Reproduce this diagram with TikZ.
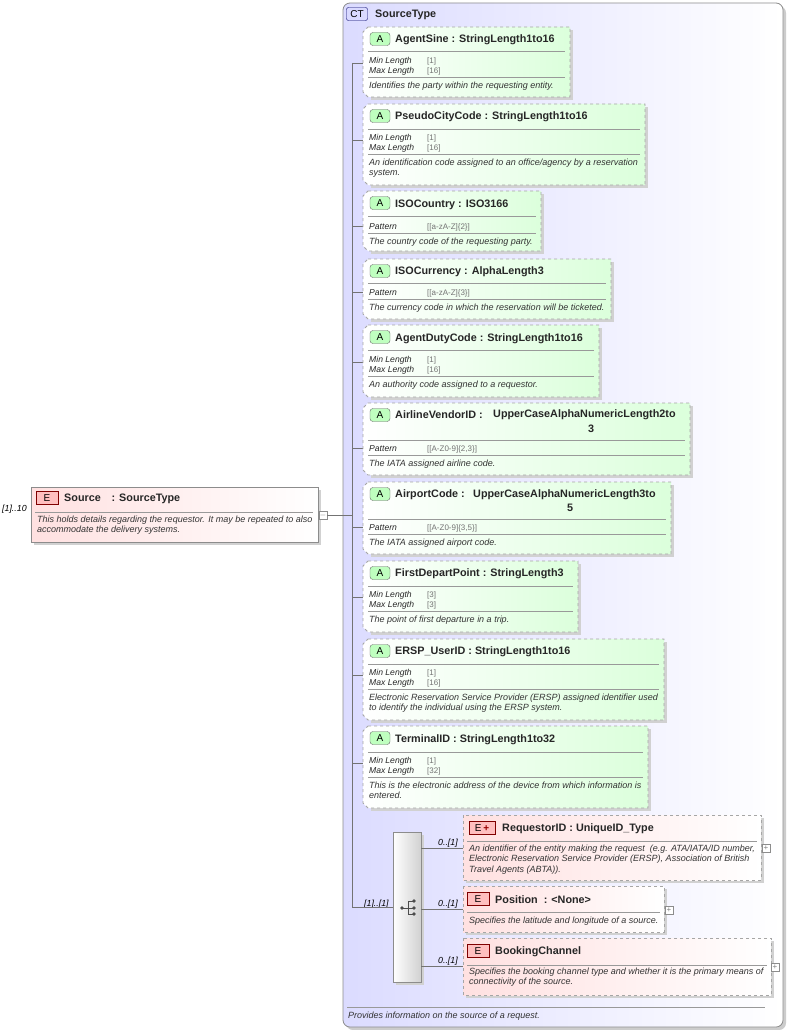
\documentclass[tikz,border=0pt]{standalone}
\usepackage{fontspec}
\setmainfont{Liberation Sans}
\begin{document}
\begin{tikzpicture}[x=1pt,y=-1pt,
 ttl/.style={anchor=west,font=\bfseries\fontsize{10.8}{13.5}\selectfont,inner sep=0pt,text=black!85,yshift=-1.8pt},
 dsc/.style={anchor=north west,font=\itshape\fontsize{9}{10.6}\selectfont,inner sep=0pt,align=left,text=black!80,yshift=-1.5pt},
 fl/.style={anchor=west,font=\itshape\fontsize{8.6}{9}\selectfont,inner sep=0pt,text=black!85,yshift=-1pt},
 fv/.style={anchor=west,font=\fontsize{8}{9}\selectfont,inner sep=0pt,text=black!55,yshift=-1pt},
 card/.style={anchor=west,font=\itshape\fontsize{8.8}{9}\selectfont,inner sep=0pt,yshift=-1pt},
 sepl/.style={draw=black!40,line width=0.6pt},
 conn/.style={draw=black!55,line width=0.6pt},
 shd/.style={fill=black!18},
 attr/.style={draw=black!35,dashed,line width=0.8pt,left color=white,right color=green!14!white},
 elm/.style={draw=black!35,dashed,line width=0.8pt,left color=red!12!white,right color=white},
 badgeA/.style={draw=black!60,fill=green!25!white,rounded corners=3pt,minimum width=20pt,minimum height=13pt,inner sep=0pt,font=\fontsize{10}{10}\selectfont},
 badgeE/.style={draw=red!50!black,fill=red!25!white,minimum width=22pt,minimum height=13pt,inner sep=0pt,font=\fontsize{10}{10}\selectfont},
 pm/.style={draw=black!45,fill=white,minimum size=8pt,inner sep=0pt,font=\fontsize{8}{8}\selectfont,text=black!50}]
\newcommand\abox[5]{\fill[shd] (#1+8,#2+3) -- (#3+3,#2+3) -- (#3+3,#4+3) -- (#1+8,#4+3) -- cycle;
 \path[attr] (#1+5,#2) -- (#3,#2) -- (#3,#4) -- (#1+5,#4) -- (#1,#4-5) -- (#1,#2+5) -- cycle;
 \node[badgeA] (#5) at (#1+17,#2+12) {A};}
\newcommand\ebox[5]{\fill[shd] (#1+3,#2+3) rectangle (#3+3,#4+3);
 \path[elm] (#1,#2) rectangle (#3,#4);}
\newcommand\hsep[3]{\draw[sepl] (#1,#3) -- (#2,#3);}
\newcommand\fc[4]{\node[fl] (#4a) at (369,#1) {#2}; \node[fv] (#4b) at (427,#1) {#3};}
\useasboundingbox (0,0) rectangle (788,1030);
\fill[white] (0,0) rectangle (788,1030);
% container
\fill[black!20,rounded corners=7pt] (346,6) rectangle (786,1030);
\path[draw=black!45,line width=0.8pt,rounded corners=7pt,left color=blue!14!white,right color=white] (343,3) rectangle (783,1027);
\node[draw=blue!40!black,fill=blue!15!white,rounded corners=2pt,minimum width=21pt,minimum height=13pt,inner sep=0pt,font=\fontsize{10}{10}\selectfont] (ct) at (357,14) {CT};
\node[ttl] (ctt) at (375,13) {SourceType};
\draw[sepl] (347,1007) -- (765,1007);
\node[dsc] (ctd) at (348,1010) {Provides information on the source of a request.};
% tree line
\coordinate (v0) at (352,63); \coordinate (v1) at (352,907);
\draw[conn] (v0) -- (v1);
\foreach \yy in {63,140,226,292,362,448,527,597,675,763}{\draw[conn] (352,\yy) -- (363,\yy);}
% Source element
\fill[shd] (34,490) rectangle (321,545);
\path[draw=black!45,line width=0.8pt,left color=red!12!white,right color=white] (31,487) rectangle (318,542);
\node[badgeE] (se) at (47,498) {E};
\node[ttl] (st) at (64,497) {Source\quad : SourceType};
\hsep{35}{313}{512}
\node[dsc] (sd) at (37,514) {This holds details regarding the requestor. It may be repeated to also\\accommodate the delivery systems.};
\node[card] (sc) at (2,508) {[1]..10};
\node[pm] (smin) at (323,515) {$-$};
\coordinate (sj) at (352,515);
\draw[conn] (smin) -- (sj);
% attributes
\abox{363}{27}{570}{97}{a1}
\node[ttl] (t1) at (395,38) {AgentSine : StringLength1to16};
\hsep{368}{565}{51}\fc{60}{Min Length}{[1]}{f1}\fc{70}{Max Length}{[16]}{g1}\hsep{368}{565}{77}
\node[dsc] (d1) at (369,80) {Identifies the party within the requesting entity.};
\abox{363}{104}{645}{185}{a2}
\node[ttl] (t2) at (395,115) {PseudoCityCode : StringLength1to16};
\hsep{368}{640}{129}\fc{137}{Min Length}{[1]}{f2}\fc{147}{Max Length}{[16]}{g2}\hsep{368}{640}{154}
\node[dsc] (d2) at (369,157) {An identification code assigned to an office/agency by a reservation\\system.};
\abox{363}{191}{541}{251}{a3}
\node[ttl] (t3) at (395,203) {ISOCountry : ISO3166};
\hsep{368}{536}{216}\fc{226}{Pattern}{[[a-zA-Z]\{2\}]}{f3}\hsep{368}{536}{233}
\node[dsc] (d3) at (369,236) {The country code of the requesting party.};
\abox{363}{259}{611}{319}{a4}
\node[ttl] (t4) at (395,270) {ISOCurrency : AlphaLength3};
\hsep{368}{606}{283}\fc{292}{Pattern}{[[a-zA-Z]\{3\}]}{f4}\hsep{368}{606}{299}
\node[dsc] (d4) at (369,302) {The currency code in which the reservation will be ticketed.};
\abox{363}{325}{599}{397}{a5}
\node[ttl] (t5) at (395,337) {AgentDutyCode : StringLength1to16};
\hsep{368}{594}{350}\fc{359}{Min Length}{[1]}{f5}\fc{369}{Max Length}{[16]}{g5}\hsep{368}{594}{376}
\node[dsc] (d5) at (369,379) {An authority code assigned to a requestor.};
\abox{363}{403}{690}{475}{a6}
\node[ttl] (t6) at (395,413) {AirlineVendorID :};
\node[ttl] (u6) at (493,413) {UpperCaseAlphaNumericLength2to};
\node[ttl,anchor=center] (w6) at (591,427) {3};
\hsep{368}{685}{440}\fc{448}{Pattern}{[[A-Z0-9]\{2,3\}]}{f6}\hsep{368}{685}{455}
\node[dsc] (d6) at (369,458) {The IATA assigned airline code.};
\abox{363}{482}{671}{554}{a7}
\node[ttl] (t7) at (395,493) {AirportCode :};
\node[ttl] (u7) at (473,493) {UpperCaseAlphaNumericLength3to};
\node[ttl,anchor=center] (w7) at (570,506) {5};
\hsep{368}{666}{519}\fc{527}{Pattern}{[[A-Z0-9]\{3,5\}]}{f7}\hsep{368}{666}{534}
\node[dsc] (d7) at (369,537) {The IATA assigned airport code.};
\abox{363}{561}{578}{632}{a8}
\node[ttl] (t8) at (395,572) {FirstDepartPoint : StringLength3};
\hsep{368}{573}{586}\fc{594}{Min Length}{[3]}{f8}\fc{604}{Max Length}{[3]}{g8}\hsep{368}{573}{611}
\node[dsc] (d8) at (369,614) {The point of first departure in a trip.};
\abox{363}{639}{664}{720}{a9}
\node[ttl] (t9) at (395,650) {ERSP\_UserID : StringLength1to16};
\hsep{368}{659}{664}\fc{672}{Min Length}{[1]}{f9}\fc{682}{Max Length}{[16]}{g9}\hsep{368}{659}{689}
\node[dsc] (d9) at (369,692) {Electronic Reservation Service Provider (ERSP) assigned identifier used\\to identify the individual using the ERSP system.};
\abox{363}{726}{648}{808}{a10}
\node[ttl] (t10) at (395,738) {TerminalID : StringLength1to32};
\hsep{368}{643}{752}\fc{760}{Min Length}{[1]}{f10}\fc{770}{Max Length}{[32]}{g10}\hsep{368}{643}{777}
\node[dsc] (d10) at (369,780) {This is the electronic address of the device from which information is\\entered.};
% sequence
\fill[shd] (396,835) rectangle (424,985);
\node[draw=black!45,left color=white,right color=black!18,minimum width=28pt,minimum height=150pt,inner sep=0pt] (seq) at (407,907) {};
\node[card] (sqc) at (364,903) {[1]..[1]};
\draw[conn] (v1) -- (seq.west);
\begin{scope}[line width=0.8pt]
\fill[black!70] (402,908) circle (1.8);
\draw[black!70] (402,908) -- (408,908) (408,901) -- (408,914) (408,901) -- (413,901) (408,908) -- (413,908) (408,914) -- (413,914);
\fill[black!70] (414,901) circle (1.8) (414,908) circle (1.8) (414,914) circle (1.8);
\end{scope}
% elements
\ebox{463}{815}{761}{880}{}
\node[badgeE,minimum width=26pt] (e1) at (482,828) {E\,{\color{red!60!black}\textbf{+}}};
\node[ttl] (e1t) at (502,827) {RequestorID : UniqueID\_Type};
\hsep{467}{757}{841}
\node[dsc] (e1d) at (469,843) {An identifier of the entity making the request\ \ (e.g. ATA/IATA/ID number,\\Electronic Reservation Service Provider (ERSP), Association of British\\Travel Agents (ABTA)).};
\node[pm] (e1p) at (766,848) {+};
\ebox{463}{886}{664}{932}{}
\node[badgeE] (e2) at (478,899) {E};
\node[ttl] (e2t) at (495,898) {Position\ \ : <None>};
\hsep{467}{660}{912}
\node[dsc] (e2d) at (469,915) {Specifies the latitude and longitude of a source.};
\node[pm] (e2p) at (669,910) {+};
\ebox{463}{938}{771}{995}{}
\node[badgeE] (e3) at (478,951) {E};
\node[ttl] (e3t) at (495,950) {BookingChannel};
\hsep{467}{767}{965}
\node[dsc] (e3d) at (469,966) {Specifies the booking channel type and whether it is the primary means of\\connectivity of the source.};
\node[pm] (e3p) at (775,967) {+};
\coordinate (c1) at (463,848); \coordinate (c2) at (463,909); \coordinate (c3) at (463,966);
\draw[conn] (421,848) -- (c1); \draw[conn] (421,909) -- (c2); \draw[conn] (421,966) -- (c3);
\node[card] (k1) at (438,842) {0..[1]};
\node[card] (k2) at (438,903) {0..[1]};
\node[card] (k3) at (438,960) {0..[1]};
\end{tikzpicture}
\end{document}
